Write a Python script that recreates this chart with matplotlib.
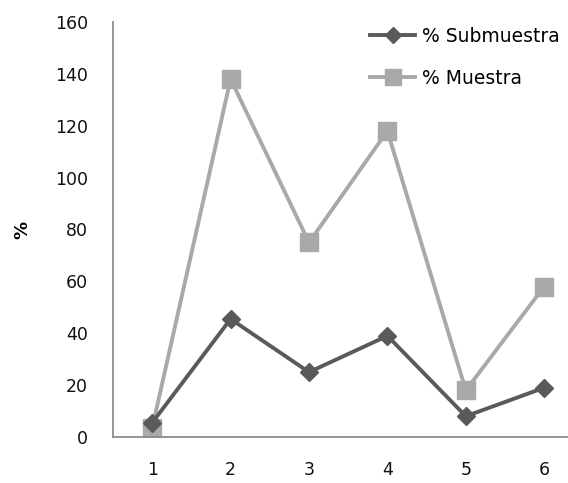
import matplotlib

matplotlib.use("Agg")
import matplotlib.pyplot as plt

categories = [1, 2, 3, 4, 5, 6]
submuestra = [5.5, 45.5, 25, 39, 8, 19]
muestra = [3.5, 138, 75, 118, 18, 58]
y_ticks = [0, 20, 40, 60, 80, 100, 120, 140, 160]

plt.rcParams.update({"font.family": ["DejaVu Sans"], "font.size": 12.5})

W, H = 568, 483
fig = plt.figure(figsize=(W / 100, H / 100), dpi=100)
ax = fig.add_axes([113 / W, 46 / H, (W - 113) / W, (461 - 46) / H])

ax.plot(categories, submuestra, color="#5a5a5a", linewidth=2.8, marker="D",
        markersize=9, label="% Submuestra", zorder=3)
ax.plot(categories, muestra, color="#a9a9a9", linewidth=2.8, marker="s",
        markersize=13, label="% Muestra", zorder=2)

ax.set_xlim(0.5, 0.5 + (W - 113) / 78.4)
ax.set_ylim(0, 160)
ax.set_xticks(categories)
ax.set_yticks(y_ticks)
ax.tick_params(length=0)
ax.tick_params(axis="y", pad=18, colors="#111111")
ax.tick_params(axis="x", pad=17, colors="#111111")

for side in ("top", "right"):
    ax.spines[side].set_visible(False)
for side in ("left", "bottom"):
    ax.spines[side].set_color("#8c8c8c")
    ax.spines[side].set_linewidth(1.3)

ax.set_ylabel("%", fontsize=13, fontweight="bold")
ax.yaxis.set_label_coords(-0.18, 0.5)

ax.legend(loc="upper left", bbox_to_anchor=(370 / W, 1 - 27 / H),
          bbox_transform=fig.transFigure, frameon=False, borderpad=0,
          borderaxespad=0, handlelength=2.4, labelspacing=1.2,
          handletextpad=0.35, markerscale=0.85, fontsize=13.5)

fig.savefig("out.png", dpi=100)
